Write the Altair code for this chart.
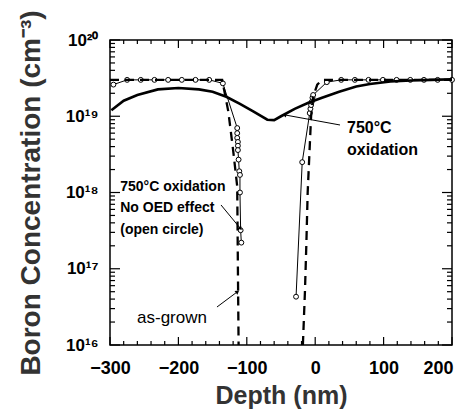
import altair as alt
import pandas as pd

FONT = "Liberation Sans"

# 750C oxidation (solid thick line)
ox_depth = [-298, -280, -260, -230, -200, -170, -150, -130, -110, -90, -70, -60, -50,
            -30, -10, 10, 35, 60, 80, 110, 140, 170, 200]
ox_conc = [1.2e19, 1.6e19, 1.9e19, 2.25e19, 2.35e19, 2.25e19, 2.1e19, 1.8e19, 1.45e19,
           1.15e19, 9.0e18, 8.9e18, 1.0e19, 1.25e19, 1.5e19, 1.75e19, 2.1e19, 2.45e19,
           2.65e19, 2.85e19, 2.95e19, 3.0e19, 3.05e19]

# as-grown (dashed line), two segments
grown_left_depth = [-300, -136, -127, -120, -114, -113, -112]
grown_left_conc = [3e19, 3e19, 1.15e19, 3.6e18, 1.2e18, 1e17, 1e16]
grown_right_depth = [-18, -15, -13, -11, -8, -6, -3, 3, 10, 200]
grown_right_conc = [1e16, 5e16, 2e17, 1e18, 4e18, 1e19, 1.8e19, 2.6e19, 3e19, 3e19]

# 750C oxidation, no OED effect (open circles), two segments
noed_left_depth = [-295, -275, -255, -235, -215, -195, -175, -155, -135, -114, -114, -114,
                   -113, -113, -113, -112, -111, -110, -110, -109, -108]
noed_left_conc = [2.6e19, 3e19, 3e19, 3e19, 3e19, 3e19, 3e19, 3e19, 2.7e19, 7e18, 6e18,
                  5.2e18, 4.6e18, 4.1e18, 3.6e18, 2.7e18, 1.9e18, 1.7e18, 1e18, 3.2e17, 2.2e17]
noed_right_depth = [-28, -19, -8, -7, -6, -5, -4, -3, 17, 38, 58, 78, 99, 119, 139, 159, 179, 200]
noed_right_conc = [4.3e16, 2.5e18, 1.1e19, 1.25e19, 1.4e19, 1.55e19, 1.75e19, 1.9e19, 2.8e19,
                   3e19, 3e19, 3e19, 3e19, 3e19, 3e19, 3e19, 3e19, 3e19]

# annotations
left_text = ["750°C oxidation", "No OED effect", "(open circle)"]
left_text_depth = [-285, -285, -285]
left_text_conc = [1.18e18, 6.27e17, 3.22e17]
right_text = ["750°C", "oxidation"]
right_text_depth = [46.5, 46.5]
right_text_conc = [7.1e18, 3.6e18]
grown_text = ["as-grown"]
grown_text_depth = [-260.5]
grown_text_conc = [2.26e16]

arrow_from_depth = [-143.6, -137.7, 36.3]
arrow_from_conc = [3.15e16, 6.86e17, 7.68e18]
arrow_to_depth = [-114.3, -109.9, -44.2]
arrow_to_conc = [4.95e16, 3.42e17, 1.04e19]
arrow_angle = [53, 140, 280]

# axes: domains, tick values / labels
x_domain = [-300, 200]
y_domain = [1e16, 1e20]
x_label_values = [-300, -200, -100, 0, 100, 200]
x_minor_values = [v for v in range(-280, 200, 20) if v % 100 != 0]
y_label_values = [1e16, 1e17, 1e18, 1e19, 1e20]
y_minor_values = [m * 10.0 ** e for e in range(16, 20) for m in range(2, 10)]

W, H = 342, 305


def seg(depths, concs, name):
    return pd.DataFrame({"d": depths, "c": concs, "seg": name, "o": list(range(len(depths)))})


ox_df = seg(ox_depth, ox_conc, "ox")
grown_df = pd.concat([seg(grown_left_depth, grown_left_conc, "L"),
                      seg(grown_right_depth, grown_right_conc, "R")])
noed_df = pd.concat([seg(noed_left_depth, noed_left_conc, "L"),
                     seg(noed_right_depth, noed_right_conc, "R")])
left_text_df = pd.DataFrame({"d": left_text_depth, "c": left_text_conc, "t": left_text})
right_text_df = pd.DataFrame({"d": right_text_depth, "c": right_text_conc, "t": right_text})
grown_text_df = pd.DataFrame({"d": grown_text_depth, "c": grown_text_conc, "t": grown_text})
arrow_df = pd.DataFrame({"d": arrow_from_depth, "c": arrow_from_conc,
                         "d2": arrow_to_depth, "c2": arrow_to_conc})
head_df = pd.DataFrame({"d": arrow_to_depth, "c": arrow_to_conc, "a": arrow_angle})

# tick segments on all four frame edges (length expressed in axis units)
decades_per_px = 4.0 / H
nm_per_px = 500.0 / W
tick_rows = []
for vals, ln in ((x_label_values, 8), (x_minor_values, 4)):
    f = 10 ** (ln * decades_per_px)
    for v in vals:
        tick_rows.append((v, y_domain[0], v, y_domain[0] * f))
        tick_rows.append((v, y_domain[1], v, y_domain[1] / f))
for vals, ln in ((y_label_values, 10), (y_minor_values, 5)):
    dd = ln * nm_per_px
    for v in vals:
        tick_rows.append((x_domain[0], v, x_domain[0] + dd, v))
        tick_rows.append((x_domain[1], v, x_domain[1] - dd, v))
tick_df = pd.DataFrame(tick_rows, columns=["d", "c", "d2", "c2"])

xs = alt.Scale(domain=x_domain, nice=False, zero=False)
ys = alt.Scale(type="log", domain=y_domain, nice=False)

x_axis = alt.Axis(orient="bottom", values=x_label_values, ticks=False, domain=False,
                  grid=False, labelFont=FONT, labelFontSize=18, labelFontWeight="bold",
                  labelColor="black", labelPadding=14, labelFlush=False,
                  labelAlign={"condition": {"test": "datum.value >= 200", "value": "right"},
                              "value": "center"},
                  labelOffset={"condition": {"test": "datum.value >= 200", "value": 1},
                               "value": 0},
                  title="Depth (nm)", titleFont=FONT, titleFontSize=25,
                  titleFontWeight="bold", titleColor="#333", titleY=58,
                  titleBaseline="alphabetic")
y_axis = alt.Axis(orient="left", values=y_label_values, ticks=False, domain=False,
                  grid=False,
                  labelExpr="['10¹⁶','10¹⁷','10¹⁸','10¹⁹','10²⁰'][round(log(datum.value)/LN10)-16]",
                  labelFont=FONT, labelFontSize=17, labelFontWeight="bold",
                  labelColor="black", labelPadding=12,
                  title="Boron Concentration (cm⁻³)", titleFont=FONT, titleFontSize=28,
                  titleFontWeight="bold", titleColor="#333", titleAngle=270,
                  titleX=-71, titleY=152.5, titleAlign="center",
                  titleBaseline="alphabetic")


def X():
    return alt.X("d:Q", scale=xs, axis=x_axis)


def Y():
    return alt.Y("c:Q", scale=ys, axis=y_axis)


circle_line = alt.Chart(noed_df).mark_line(color="black", strokeWidth=1).encode(
    x=X(), y=Y(), detail="seg:N", order="o:Q")

circles = alt.Chart(noed_df).mark_point(shape="circle", filled=True, fill="white",
                                        stroke="black", strokeWidth=1, size=24,
                                        opacity=1).encode(x=X(), y=Y())

dashed = alt.Chart(grown_df).mark_line(color="black", strokeWidth=2.3,
                                       strokeDash=[9, 6]).encode(
    x=X(), y=Y(), detail="seg:N", order="o:Q")

solid = alt.Chart(ox_df).mark_line(color="black", strokeWidth=2.6).encode(
    x=X(), y=Y(), order="o:Q")

left_txt = alt.Chart(left_text_df).mark_text(font=FONT, fontSize=14, fontWeight="bold",
                                             align="left", baseline="middle",
                                             color="black").encode(x=X(), y=Y(), text="t:N")

right_txt = alt.Chart(right_text_df).mark_text(font=FONT, fontSize=16, fontWeight="bold",
                                               align="left", baseline="middle",
                                               color="black").encode(x=X(), y=Y(), text="t:N")

grown_txt = alt.Chart(grown_text_df).mark_text(font=FONT, fontSize=17, fontWeight="normal",
                                               align="left", baseline="middle",
                                               color="black").encode(x=X(), y=Y(), text="t:N")

arrows = alt.Chart(arrow_df).mark_rule(color="black", strokeWidth=1).encode(
    x=X(), y=Y(), x2="d2:Q", y2="c2:Q")

heads = alt.Chart(head_df).mark_point(shape="triangle", filled=True, color="black",
                                      size=22, opacity=1).encode(
    x=X(), y=Y(), angle=alt.Angle("a:Q", scale=None))

ticks = alt.Chart(tick_df).mark_rule(color="black", strokeWidth=1.2).encode(
    x=X(), y=Y(), x2="d2:Q", y2="c2:Q")

chart = alt.layer(ticks, circle_line, circles, dashed, solid, left_txt, right_txt,
                  grown_txt, arrows, heads).properties(
    width=W, height=H,
    autosize=alt.AutoSizeParams(type="none"),
    padding={"left": 102, "top": 32, "right": 9, "bottom": 64},
).configure_view(stroke="black", strokeWidth=1.5)

chart.save("out.html", embed_options={"renderer": "svg", "actions": False})
